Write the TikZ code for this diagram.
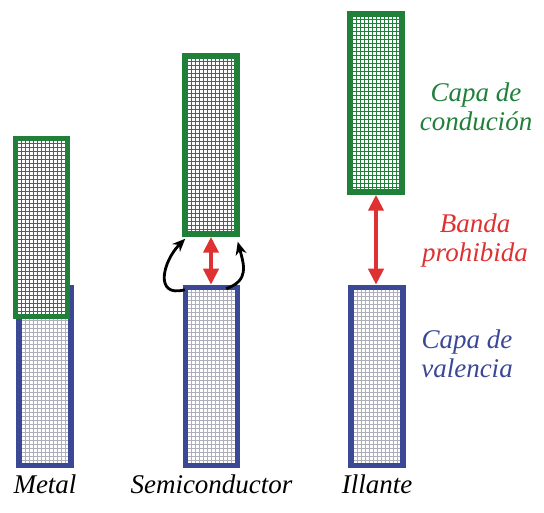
\documentclass[tikz,border=0pt]{standalone}
\usepackage{fontspec}
\setmainfont{Liberation Serif}
\usetikzlibrary{positioning,arrows.meta}
\definecolor{condgreen}{RGB}{32,128,58}
\definecolor{valblue}{RGB}{58,72,150}
\definecolor{gapred}{RGB}{222,50,50}
\definecolor{gridgray}{RGB}{175,175,188}

\begin{document}
\begin{tikzpicture}[x=1pt,y=1pt,node distance=4pt,
  band/.style={line width=5.5pt,minimum width=52pt,minimum height=178pt,inner sep=0pt},
  cond/.style={band,draw=condgreen,fill=white,
    path picture={\draw[condgreen,line width=0.8pt,step=4pt]
      (path picture bounding box.south west) grid (path picture bounding box.north east);}},
  val/.style={band,draw=valblue,fill=white,
    path picture={\draw[gridgray,line width=0.7pt,step=4pt]
      (path picture bounding box.south west) grid (path picture bounding box.north east);}},
  gap/.style={{Triangle[length=16pt,width=15pt]}-{Triangle[length=16pt,width=15pt]},draw=gapred,line width=4.5pt},
  jump/.style={-{Stealth[length=13pt,width=11pt]},line width=2.8pt},
  lbl/.style={font=\itshape\fontsize{27}{29}\selectfont,align=center,inner sep=0pt}]
\useasboundingbox (0,0) rectangle (544,513);

% valence bands
\node[val] (mv) at (45,136.5) {};
\node[val] (sv) at (211.5,136.5) {};
\node[val] (iv) at (377,136.5) {};
% conduction bands
\node[cond] (mc) at (41.5,285.5) {};
\node[cond] (sc) at (211,368) {};
\node[cond] (ic) at (376,410) {};

% gaps
\draw[gap] (sc.south) -- (sc.south |- sv.north);
\draw[gap] (ic.south) -- (ic.south |- iv.north);

% excited electrons
\draw[jump] ([shift={(2,-5)}]sv.north west) to[out=195,in=225,looseness=1.6] ([shift={(3,-2)}]sc.south west);
\draw[jump] ([shift={(-14,-4)}]sv.north east) to[out=20,in=285,looseness=1.3] ([shift={(-2,-5)}]sc.south east);

% labels
\node[lbl,below=6pt of mv.south] (metal) {Metal};
\node[lbl,below=6pt of sv.south] (semi) {Semiconductor};
\node[lbl,below=6pt of iv.south] (ill) {Illante};
\node[lbl,text=condgreen] (lcond) at (476,406) {Capa de\\condución};
\node[lbl,text=gapred] (lgap) at (475,272) {Banda\\prohibida};
\node[lbl,text=valblue] (lval) at (467,159) {Capa de\\valencia};
\end{tikzpicture}
\end{document}
